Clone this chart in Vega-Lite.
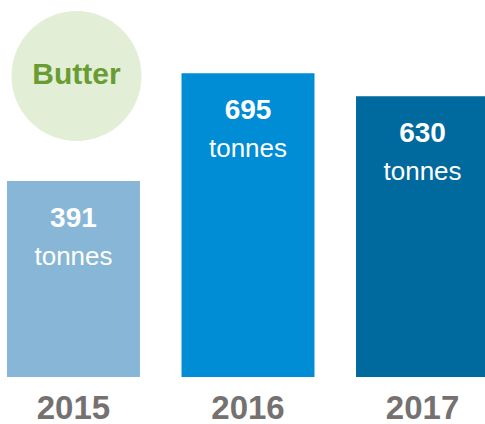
{
  "$schema": "https://vega.github.io/schema/vega-lite/v6.json",
  "width": 485,
  "height": 377,
  "autosize": {"type": "none"},
  "padding": {"left": 0, "top": 0, "right": 0, "bottom": 47},
  "background": "white",
  "config": {"view": {"stroke": null}, "font": "Liberation Sans"},
  "data": {"values": [
    {"year": "2015", "value": 391, "unit": "tonnes"},
    {"year": "2016", "value": 695, "unit": "tonnes"},
    {"year": "2017", "value": 630, "unit": "tonnes"}
  ]},
  "encoding": {
    "x": {
      "field": "year", "type": "nominal",
      "scale": {"range": [0, 496], "paddingInner": 0.238, "paddingOuter": 0.04},
      "axis": {"title": null, "domain": false, "ticks": false, "grid": false, "labelAngle": 0,
        "labelFontSize": 33, "labelFontWeight": "bold", "labelColor": "#767171", "labelPadding": 15,
        "labelFont": "Liberation Sans"}
    }
  },
  "layer": [
    {
      "mark": {"type": "bar"},
      "encoding": {
        "y": {"field": "value", "type": "quantitative", "scale": {"domain": [-161, 901], "zero": false, "nice": false}, "axis": null},
        "y2": {"datum": -161},
        "color": {"field": "year", "type": "nominal", "scale": {"range": ["#87b6d7", "#008dd5", "#00699e"]}, "legend": null}
      }
    },
    {
      "mark": {"type": "text", "color": "white", "fontSize": 28, "fontWeight": "bold", "baseline": "alphabetic", "dy": 46, "font": "Liberation Sans"},
      "encoding": {
        "y": {"field": "value", "type": "quantitative"},
        "text": {"field": "value", "type": "quantitative"}
      }
    },
    {
      "mark": {"type": "text", "color": "white", "fontSize": 26, "baseline": "alphabetic", "dy": 84, "font": "Liberation Sans"},
      "encoding": {
        "y": {"field": "value", "type": "quantitative"},
        "text": {"field": "unit", "type": "nominal"}
      }
    },
    {
      "data": {"values": [{"label": "Butter", "year": "2015", "cy": 687, "ty": 664}]},
      "mark": {"type": "point", "shape": "circle", "filled": true, "size": 16900, "color": "#e2efd6", "opacity": 1, "xOffset": 3},
      "encoding": {
        "x": {"field": "year", "type": "nominal"},
        "y": {"field": "cy", "type": "quantitative"}
      }
    },
    {
      "data": {"values": [{"label": "Butter", "year": "2015", "cy": 687, "ty": 664}]},
      "mark": {"type": "text", "color": "#6a9c34", "fontSize": 30, "fontWeight": "bold", "baseline": "alphabetic", "dx": 3, "font": "Liberation Sans"},
      "encoding": {
        "x": {"field": "year", "type": "nominal"},
        "y": {"field": "ty", "type": "quantitative"},
        "text": {"field": "label", "type": "nominal"}
      }
    }
  ]
}
